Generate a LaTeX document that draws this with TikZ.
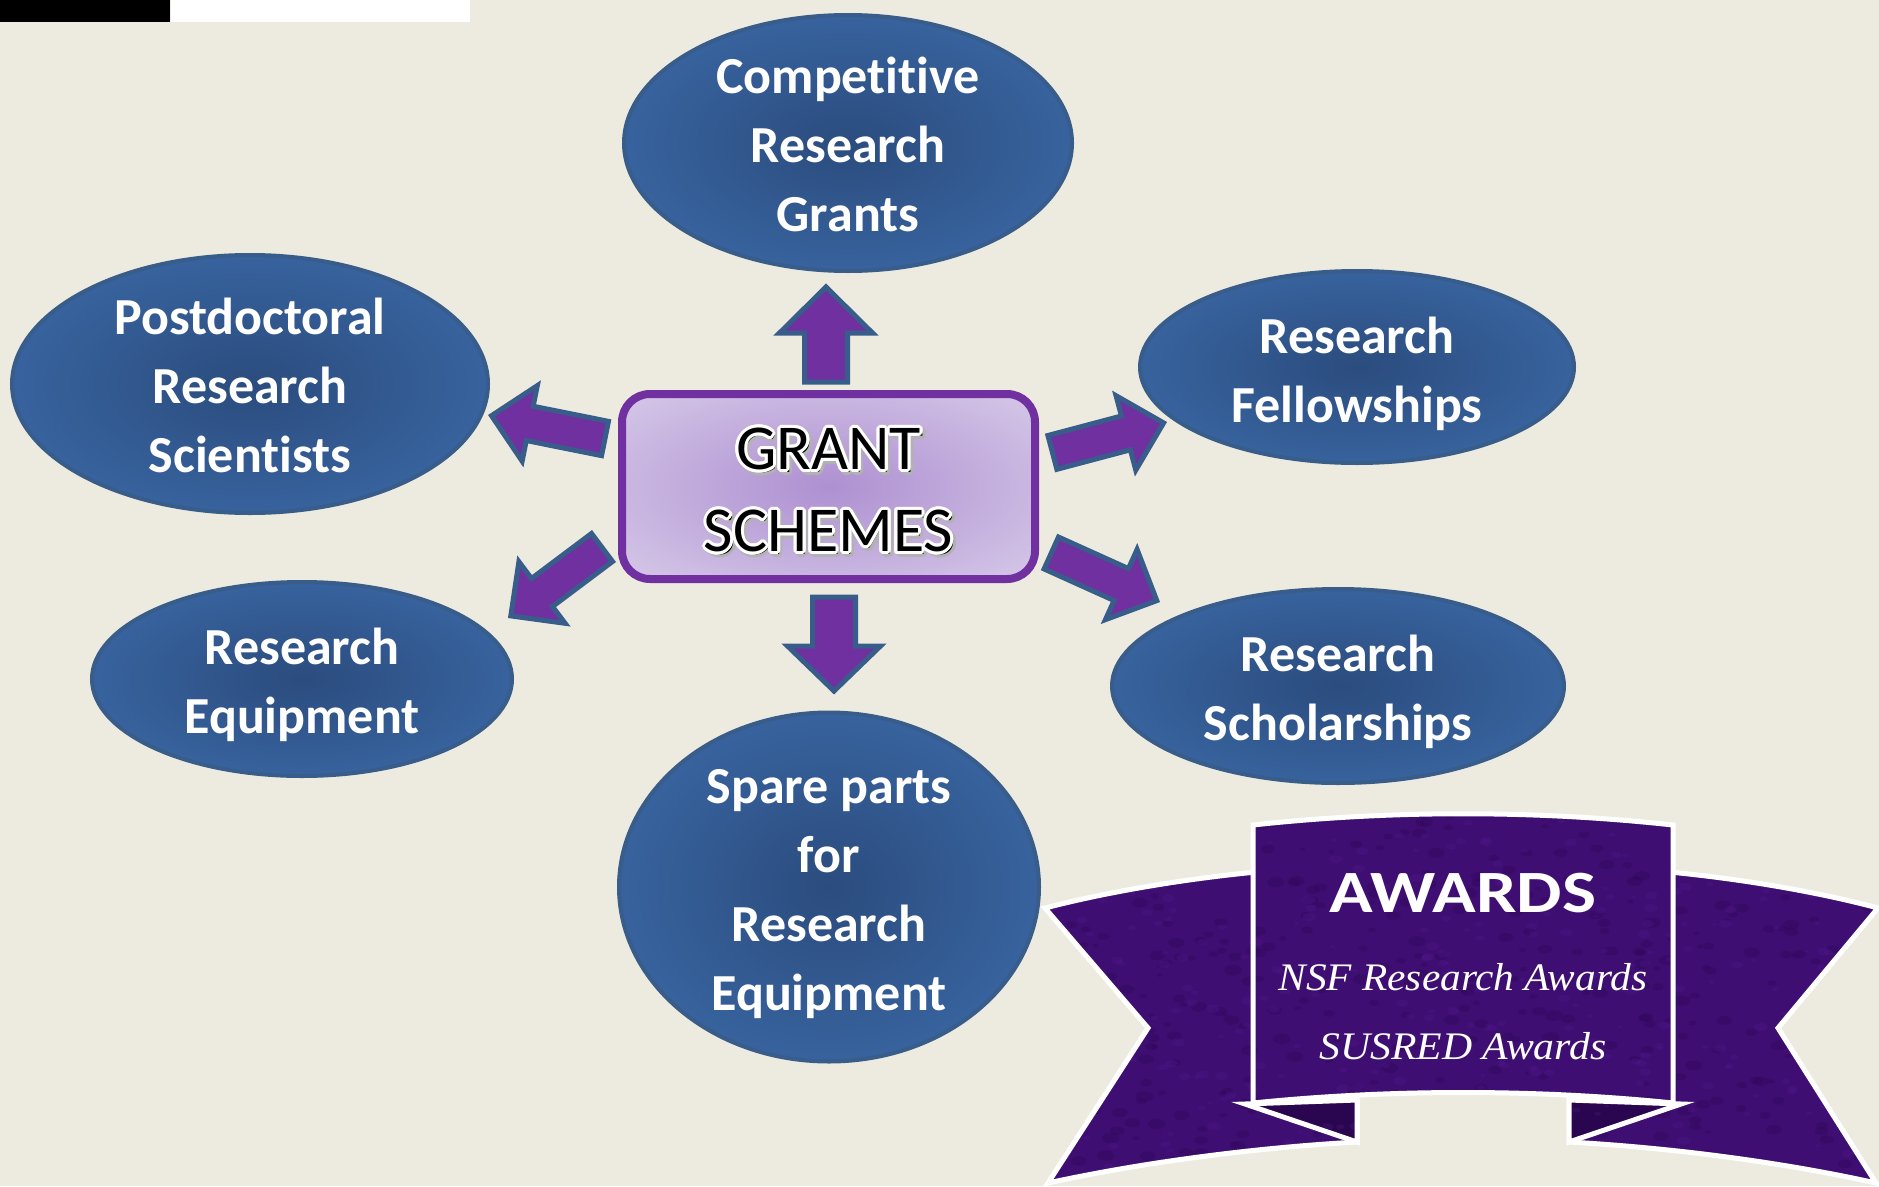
\documentclass[tikz,border=0pt]{standalone}
\usepackage{fontspec}
\usepackage{contour}
\usetikzlibrary{calc,shapes.geometric}
\newfontfamily\carlito[Ligatures=NoCommon]{Carlito}
\newfontfamily\libserif{Liberation Serif}
\definecolor{bgcol}{HTML}{EDEBE0}
\definecolor{ellin}{HTML}{2B4C7E}
\definecolor{ellout}{HTML}{4479BD}
\definecolor{ellline}{HTML}{385D8A}
\definecolor{boxpurple}{HTML}{7030A0}
\definecolor{boxin}{HTML}{AE90D1}
\definecolor{boxout}{HTML}{E6DFF1}
\definecolor{ribbon}{HTML}{3F0E72}
\definecolor{ribbonlight}{HTML}{5A1E9A}
\definecolor{ribbondeep}{HTML}{2A0650}
\pgfdeclareradialshading{ellshade}{\pgfpointorigin}{color(0bp)=(ellin); color(50bp)=(ellout); color(100bp)=(ellout)}
\pgfdeclareradialshading{boxshade}{\pgfpointorigin}{color(0bp)=(boxin); color(50bp)=(boxout); color(100bp)=(boxout)}
\contourlength{3pt}
\newcommand\shadowtext[1]{\rlap{\kern2.5pt\raisebox{-2.5pt}{\contour{black!30}{#1}}}\contour{white}{#1}}
% #1: shift of the last baseline, #2: lines
\newcommand\elltext[2]{\raisebox{#1}[0pt][0pt]{\begin{tabular}[b]{@{}c@{}}#2\end{tabular}}}
\newcommand\grantarrow[5]{%
  \path (#1) coordinate (gaT) (#2) coordinate (gaP);
  \path ($(gaP)!#5!(gaT)$) coordinate (gaH);
  \draw[blockarrow] ($(gaT)!#3!90:(gaP)$) -- ($(gaH)!#3!90:(gaP)$) -- ($(gaH)!#4!90:(gaP)$) -- (gaP)
    -- ($(gaH)!#4!-90:(gaP)$) -- ($(gaH)!#3!-90:(gaP)$) -- ($(gaT)!#3!-90:(gaP)$) -- cycle;}
\newcommand\ribbontexture{%
  \pgfmathsetseed{7}%
  \foreach \i in {1,...,420}{%
    \pgfmathsetmacro\rx{1040+840*rnd}\pgfmathsetmacro\ry{810+376*rnd}\pgfmathsetmacro\rr{3+6*rnd}%
    \fill[ribbondeep, opacity=0.25] (\rx,\ry) ellipse ({\rr} and {0.6*\rr});}
  \foreach \i in {1,...,380}{%
    \pgfmathsetmacro\rx{1040+840*rnd}\pgfmathsetmacro\ry{810+376*rnd}\pgfmathsetmacro\rr{2+5*rnd}%
    \fill[ribbonlight, opacity=0.22] (\rx,\ry) ellipse ({\rr} and {0.6*\rr});}}
\tikzset{
  ell/.style={ellipse, draw=ellline, line width=4pt, shade, shading=ellshade, inner sep=0pt,
    text=white, font=\carlito\bfseries\fontsize{52}{69}\selectfont},
  blockarrow/.style={fill=boxpurple, draw=ellline, line width=5pt, line join=miter},
  ribbonedge/.style={draw=white, line width=5pt, line join=miter},
}
\begin{document}
\begin{tikzpicture}[x=1pt,y=-1pt]
\fill[bgcol] (0,0) rectangle (1879,1186);
\useasboundingbox (0,0) rectangle (1879,1186);
\fill[black] (0,0) rectangle (170,22);
\fill[white] (171,0) rectangle (470,22);

% ellipses
\node[ell, minimum width=448pt, minimum height=256pt] (grants) at (848,143) {\elltext{-88pt}{Competitive\\Research\\Grants}};
\node[ell, minimum width=476pt, minimum height=258pt] (postdoc) at (250,384) {\elltext{-88pt}{Postdoctoral\\Research\\Scientists}};
\node[ell, minimum width=434pt, minimum height=192pt] (fellow) at (1357,367) {\elltext{-55pt}{Research\\Fellowships}};
\node[ell, minimum width=420pt, minimum height=194pt] (equip) at (302,679) {\elltext{-54pt}{Research\\Equipment}};
\node[ell, minimum width=452pt, minimum height=194pt] (schol) at (1338,686) {\elltext{-54pt}{Research\\Scholarships}};
\node[ell, minimum width=420pt, minimum height=349pt] (spare) at (829,887) {\elltext{-123pt}{Spare parts\\for\\Research\\Equipment}};

% central box
\node[rectangle, rounded corners=28pt, draw=boxpurple, line width=8pt, shade, shading=boxshade,
  minimum width=413pt, minimum height=185pt, inner sep=0pt,
  font=\carlito\fontsize{64}{82}\selectfont] (box) at (828.5,486.5)
  {\raisebox{-65pt}[0pt][0pt]{\begin{tabular}[b]{@{}c@{}}\shadowtext{GRANT}\\\shadowtext{SCHEMES}\end{tabular}}};

% arrows
\coordinate (tUp) at (826,382);   \coordinate (pUp) at (826,287);
\coordinate (tDn) at (834,597);   \coordinate (pDn) at (834,691);
\coordinate (tLU) at (605,438.5); \coordinate (pLU) at (491.5,415.7);
\coordinate (tLD) at (602,547.5); \coordinate (pLD) at (510.8,615.9);
\coordinate (tRU) at (1052.4,452.4); \coordinate (pRU) at (1163.6,422.9);
\coordinate (tRD) at (1051.3,553); \coordinate (pRD) at (1156.8,600.6);
\grantarrow{tUp}{pUp}{21.5pt}{46.5pt}{46pt}
\grantarrow{tDn}{pDn}{21.5pt}{46.5pt}{45pt}
\grantarrow{tLU}{pLU}{17.5pt}{38.5pt}{39pt}
\grantarrow{tLD}{pLD}{17.5pt}{38.5pt}{39pt}
\grantarrow{tRU}{pRU}{17.5pt}{38.5pt}{39pt}
\grantarrow{tRD}{pRD}{17.5pt}{38.5pt}{39pt}

% banner pieces
\path[save path=\leftwing] (1045,908) .. controls (1130,886) and (1250,868) .. (1357,866) -- (1357,1142)
  .. controls (1250,1148) and (1140,1163) .. (1048,1183) -- (1148,1028) -- cycle;
\path[save path=\rightwing] (1878,908) .. controls (1796,886) and (1676,868) .. (1569,866) -- (1569,1142)
  .. controls (1676,1148) and (1786,1163) .. (1876,1183) -- (1778,1028) -- cycle;
\path[save path=\leftfold] (1245,1104) -- (1357,1100) -- (1357,1142) -- cycle;
\path[save path=\rightfold] (1681,1104) -- (1569,1100) -- (1569,1142) -- cycle;
\path[save path=\panel] (1253,825) .. controls (1390,810) and (1536,810) .. (1673,825) -- (1673,1103)
  .. controls (1536,1089) and (1390,1089) .. (1253,1103) -- cycle;

\foreach \piece/\shadecol in {\leftwing/ribbon,\rightwing/ribbon,\leftfold/ribbondeep,\rightfold/ribbondeep,\panel/ribbon}{
  \fill[\shadecol, use path=\piece];
  \begin{scope}
    \clip[use path=\piece];
    \ribbontexture
  \end{scope}
  \draw[ribbonedge, use path=\piece];
}

\node[anchor=base, text=white, font=\carlito\bfseries\fontsize{60}{60}\selectfont, inner sep=0pt] (awards) at (1463,912) {\scalebox{1.2}[1]{AWARDS}};
\node[anchor=base, text=white, font=\libserif\itshape\fontsize{39}{39}\selectfont, inner sep=0pt] (nsf) at (1463,990) {\scalebox{1.06}[1]{NSF Research Awards}};
\node[anchor=base, text=white, font=\libserif\itshape\fontsize{39}{39}\selectfont, inner sep=0pt] (susred) at (1463,1059) {\scalebox{1.07}[1]{SUSRED Awards}};
\end{tikzpicture}
\end{document}
